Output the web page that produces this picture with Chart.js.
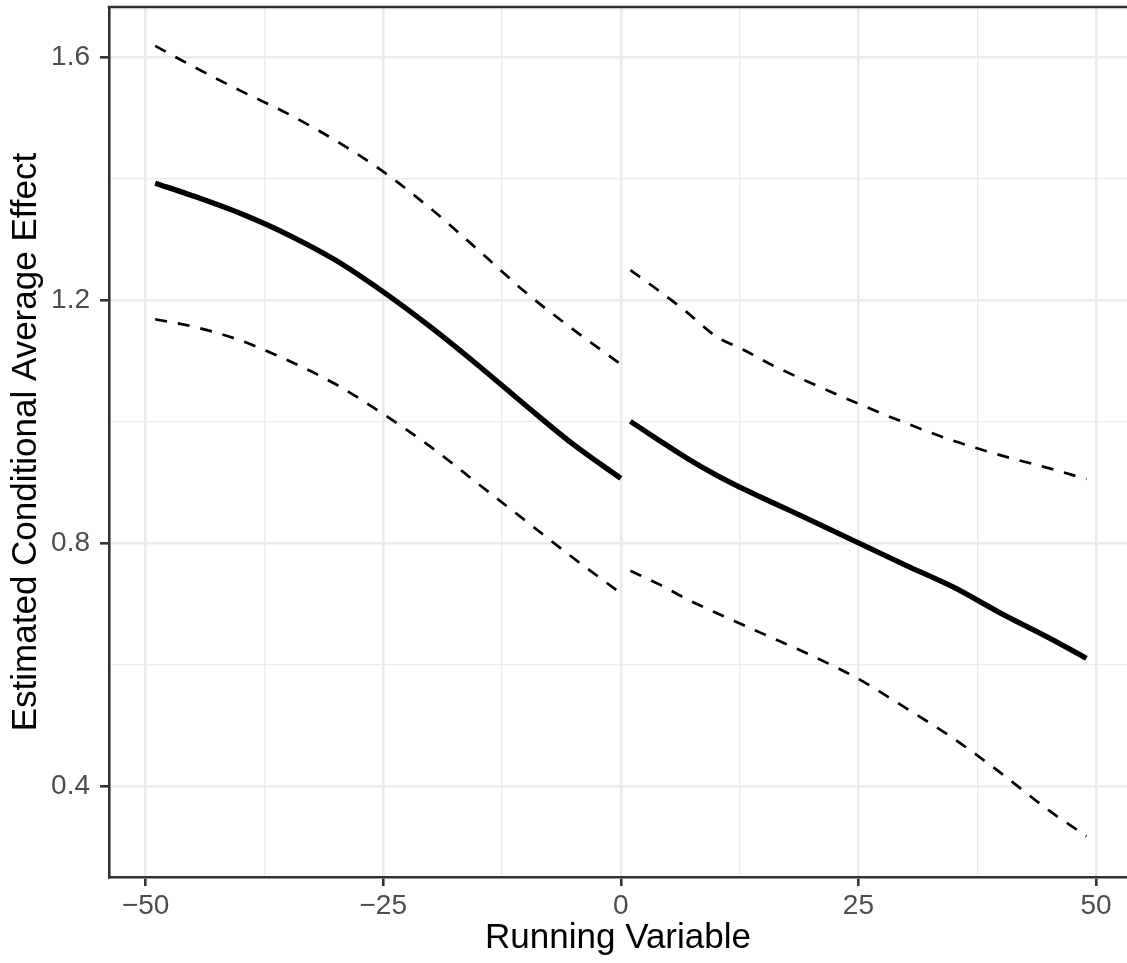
<!DOCTYPE html>
<html>
<head>
<meta charset="utf-8">
<script src="https://cdn.jsdelivr.net/npm/chart.js@4.4.1/dist/chart.umd.min.js"></script>
<style>
html,body{margin:0;padding:0;background:#ffffff;overflow:hidden}
#wrap{width:1127px;height:963px;position:relative}
</style>
</head>
<body>
<div id="wrap"><canvas id="c" width="1127" height="963"></canvas></div>
<script>
// ---- data ----
const xLeft       = [-49, -45, -40, -35, -30, -25, -20, -15, -10, -5, 0];
const estLeft     = [1.393, 1.372, 1.343, 1.308, 1.266, 1.214, 1.156, 1.093, 1.027, 0.963, 0.907];
const upperLeft   = [1.619, 1.585, 1.545, 1.507, 1.463, 1.412, 1.351, 1.283, 1.213, 1.152, 1.095];
const lowerLeft   = [1.169, 1.157, 1.134, 1.101, 1.062, 1.013, 0.959, 0.898, 0.837, 0.776, 0.718];

const xRight      = [1, 4, 7, 10, 13, 16, 20, 25, 30, 35, 40, 45, 49];
const estRight    = [1.001, 0.970, 0.940, 0.913, 0.889, 0.867, 0.838, 0.801, 0.764, 0.728, 0.685, 0.645, 0.611];
const upperRight  = [1.250, 1.216, 1.180, 1.141, 1.118, 1.093, 1.064, 1.030, 0.998, 0.969, 0.945, 0.924, 0.906];
const lowerRight  = [0.755, 0.733, 0.708, 0.686, 0.665, 0.644, 0.616, 0.577, 0.529, 0.479, 0.422, 0.361, 0.318];

const xMajorTicks = [-50, -25, 0, 25, 50];
const xMinorTicks = [-37.5, -12.5, 12.5, 37.5];
const xTickLabels = ['\u221250', '\u221225', '0', '25', '50'];
const yMajorTicks = [0.4, 0.8, 1.2, 1.6];
const yMinorTicks = [0.6, 1.0, 1.4];
const yTickLabels = ['0.4', '0.8', '1.2', '1.6'];

const xTitle = 'Running Variable';
const yTitle = 'Estimated Conditional Average Effect';

// ---- helpers ----
const pts = (xs, ys) => xs.map((x, i) => ({x: x, y: ys[i]}));
const near = (a, b) => Math.abs(a - b) < 1e-6;
const isIn = (arr, v) => arr.some(t => near(t, v));

const FONT = "'Liberation Sans', Arial, Helvetica, sans-serif";
const MAJOR_W = 2.6, MINOR_W = 1.3, GRID = '#EBEBEB', AXIS = '#333333';

function solid(data) {
  return {data: data, borderColor: '#000000', borderWidth: 5.3, pointRadius: 0,
          fill: false, cubicInterpolationMode: 'monotone', borderCapStyle: 'butt'};
}
function dashed(data) {
  return {data: data, borderColor: '#000000', borderWidth: 2.7, pointRadius: 0,
          fill: false, cubicInterpolationMode: 'monotone', borderDash: [12, 11], borderCapStyle: 'butt'};
}

const topBorder = {
  id: 'topBorder',
  afterDatasetsDraw(chart) {
    const {ctx, chartArea} = chart;
    ctx.save();
    ctx.strokeStyle = AXIS;
    ctx.lineWidth = MAJOR_W;
    ctx.beginPath();
    ctx.moveTo(chartArea.left - MAJOR_W / 2, chartArea.top);
    ctx.lineTo(chart.width, chartArea.top);
    ctx.stroke();
    ctx.restore();
  }
};

new Chart(document.getElementById('c'), {
  type: 'line',
  data: {
    datasets: [
      solid(pts(xLeft, estLeft)),
      dashed(pts(xLeft, upperLeft)),
      dashed(pts(xLeft, lowerLeft)),
      solid(pts(xRight, estRight)),
      dashed(pts(xRight, upperRight)),
      dashed(pts(xRight, lowerRight))
    ]
  },
  options: {
    responsive: false,
    animation: false,
    layout: {padding: {top: 7, left: 0, right: 0, bottom: 0}},
    plugins: {legend: {display: false}, tooltip: {enabled: false}},
    scales: {
      x: {
        type: 'linear',
        min: -53.86,
        max: 53.26,
        afterBuildTicks: s => {
          s.ticks = xMajorTicks.concat(xMinorTicks).sort((a, b) => a - b).map(v => ({value: v}));
        },
        afterFit: s => { s.height = 86; s.paddingLeft = 0; s.paddingRight = 0; },
        ticks: {
          autoSkip: false, maxRotation: 0, minRotation: 0, padding: 3,
          color: '#4D4D4D', font: {family: FONT, size: 28},
          callback: v => { const i = xMajorTicks.findIndex(t => near(t, v)); return i >= 0 ? xTickLabels[i] : ''; }
        },
        grid: {
          color: GRID,
          lineWidth: c => isIn(xMajorTicks, c.tick.value) ? MAJOR_W : MINOR_W,
          tickColor: c => isIn(xMajorTicks, c.tick.value) ? AXIS : 'rgba(0,0,0,0)',
          tickWidth: MAJOR_W,
          tickLength: 9
        },
        border: {display: true, color: AXIS, width: MAJOR_W},
        title: {display: true, text: xTitle, color: '#000000', font: {family: FONT, size: 35}, padding: {top: 0, bottom: 4}}
      },
      y: {
        type: 'linear',
        min: 0.251,
        max: 1.683,
        afterBuildTicks: s => {
          s.ticks = yMajorTicks.concat(yMinorTicks).sort((a, b) => a - b).map(v => ({value: v}));
        },
        afterFit: s => { s.width = 109; s.paddingTop = 0; s.paddingBottom = 0; },
        ticks: {
          autoSkip: false, padding: 10,
          color: '#4D4D4D', font: {family: FONT, size: 28},
          callback: v => { const i = yMajorTicks.findIndex(t => near(t, v)); return i >= 0 ? yTickLabels[i] : ''; }
        },
        grid: {
          color: GRID,
          lineWidth: c => isIn(yMajorTicks, c.tick.value) ? MAJOR_W : MINOR_W,
          tickColor: c => isIn(yMajorTicks, c.tick.value) ? AXIS : 'rgba(0,0,0,0)',
          tickWidth: MAJOR_W,
          tickLength: 9
        },
        border: {display: true, color: AXIS, width: MAJOR_W},
        title: {display: true, text: yTitle, color: '#000000', font: {family: FONT, size: 35}, padding: {top: 5, bottom: 0}}
      }
    }
  },
  plugins: [topBorder]
});
</script>
</body>
</html>
